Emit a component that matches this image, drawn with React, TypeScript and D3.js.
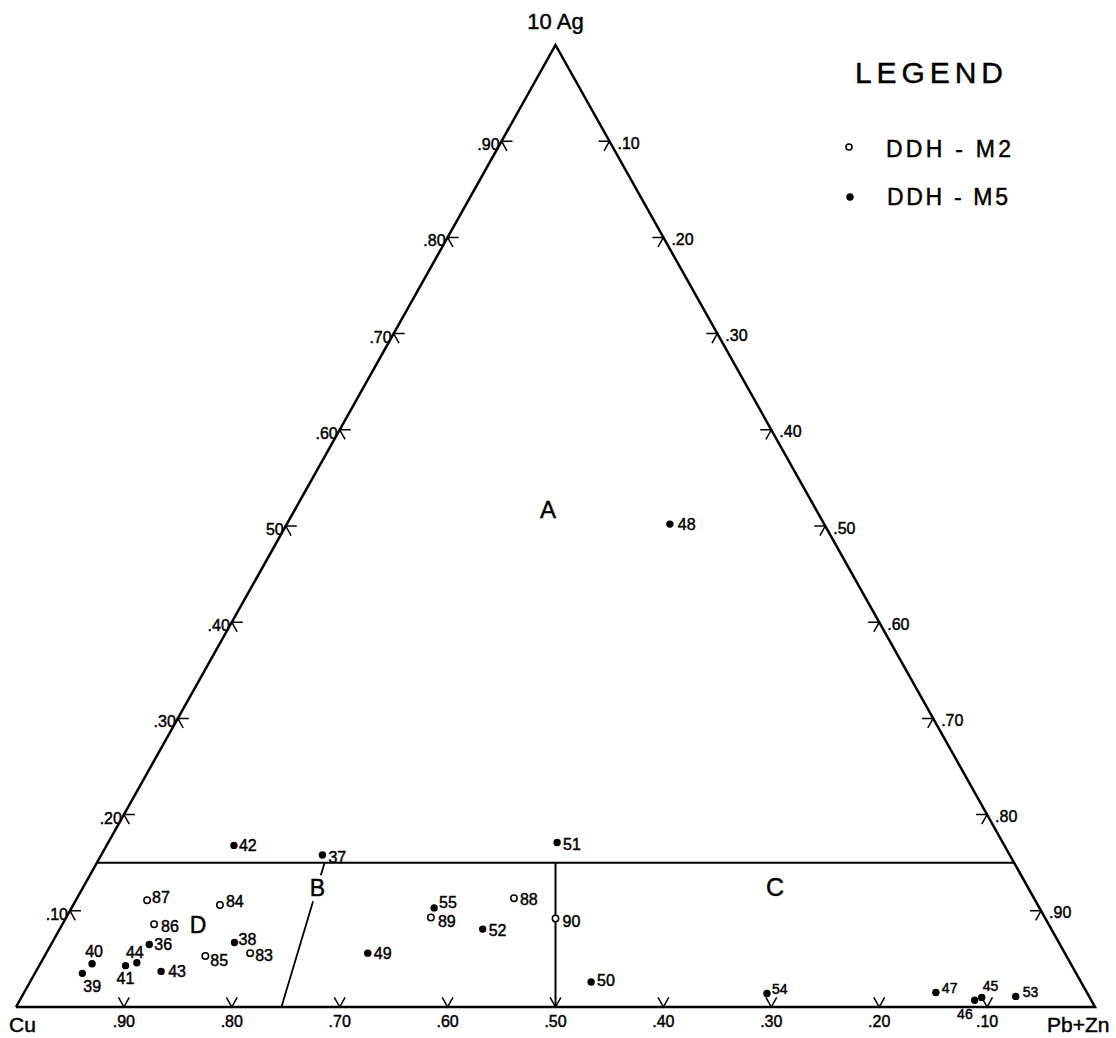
import React from "react";
import * as d3 from "d3";

const W = 1116;
const H = 1038;

// Sample compositions as fractions of Cu, 10Ag and Pb+Zn (each row sums to 1)
const m2Ids = ["87", "84", "86", "85", "83", "88", "89", "90"];
const m2Cu = [0.823, 0.758, 0.829, 0.798, 0.755, 0.482, 0.569, 0.454];
const m2Ag = [0.111, 0.106, 0.086, 0.053, 0.056, 0.113, 0.093, 0.092];
const m2PbZn = [0.066, 0.136, 0.085, 0.149, 0.189, 0.405, 0.338, 0.454];

const m5Ids = ["42", "37", "36", "38", "40", "44", "41", "43", "39", "49", "48", "51", "55", "52", "50", "54", "47", "46", "45", "53"];
const m5Cu = [0.714, 0.637, 0.844, 0.764, 0.907, 0.865, 0.877, 0.847, 0.921, 0.646, 0.143, 0.413, 0.561, 0.527, 0.454, 0.297, 0.140, 0.108, 0.100, 0.068];
const m5Ag = [0.168, 0.158, 0.065, 0.067, 0.045, 0.046, 0.043, 0.037, 0.035, 0.056, 0.502, 0.171, 0.103, 0.081, 0.026, 0.014, 0.015, 0.007, 0.010, 0.011];
const m5PbZn = [0.118, 0.205, 0.091, 0.169, 0.048, 0.089, 0.080, 0.116, 0.044, 0.298, 0.355, 0.416, 0.336, 0.392, 0.520, 0.689, 0.845, 0.885, 0.890, 0.921];

// Axis ticks
const baseTicks = [0.9, 0.8, 0.7, 0.6, 0.5, 0.4, 0.3, 0.2, 0.1]; // Cu fraction
const baseTickLabels = [".90", ".80", ".70", ".60", ".50", ".40", ".30", ".20", ".10"];
const leftTicks = [0.1, 0.2, 0.3, 0.4, 0.5, 0.6, 0.7, 0.8, 0.9]; // 10Ag fraction
const leftTickLabels = [".10", ".20", ".30", ".40", "50", ".60", ".70", ".80", ".90"];
const rightTicks = [0.1, 0.2, 0.3, 0.4, 0.5, 0.6, 0.7, 0.8, 0.9]; // Pb+Zn fraction
const rightTickLabels = [".10", ".20", ".30", ".40", ".50", ".60", ".70", ".80", ".90"];

// Field boundaries
const boundaryAg = 0.15; // horizontal divide between field A and the lower fields
const divideBPbZnBase = 0.246; // B divide at Ag = 0
const divideBPbZnTop = 0.211; // B divide at Ag = boundaryAg

// Label placement for each sample number (dx, dy relative to the dot, anchor, font size)
const labelPos: Record<string, [number, number, string, number]> = {
  "87": [5, -3, "start", 16],
  "84": [6, -4, "start", 16],
  "86": [7, 2, "start", 16],
  "85": [5, 4, "start", 16],
  "83": [5, 2, "start", 16],
  "88": [6, 1, "start", 16],
  "89": [7, 4, "start", 16],
  "90": [7, 3, "start", 16],
  "42": [5, 0, "start", 16],
  "37": [6, 2, "start", 16],
  "36": [5, 0, "start", 16],
  "38": [4, -3, "start", 16],
  "40": [2, -12, "middle", 16],
  "44": [-2, -11, "middle", 16],
  "41": [0, 13, "middle", 16],
  "43": [7, 0, "start", 16],
  "39": [1, 13, "start", 16],
  "49": [6, 0, "start", 16],
  "48": [8, 0, "start", 16],
  "51": [6, 2, "start", 16],
  "55": [5, -6, "start", 16],
  "52": [6, 1, "start", 16],
  "50": [6, -2, "start", 16],
  "54": [5, -5, "start", 14],
  "47": [6, -5, "start", 14],
  "46": [-2, 14, "end", 14],
  "45": [1, -11, "start", 14],
  "53": [7, -4, "start", 14],
};

const FONT = "'Liberation Sans', Arial, sans-serif";
// pen-lettered text is slightly heavier than the plain face
const INK = { fill: "#000", stroke: "#000", strokeWidth: 0.45 };

// Ternary projection: x from Pb+Zn plus half the Ag share, y from Ag
const xScale = d3.scaleLinear().domain([0, 1]).range([16, 1095]);
const yScale = d3.scaleLinear().domain([0, 1]).range([1007, 45]);
const project = (ag: number, pbzn: number): [number, number] => [xScale(pbzn + ag / 2), yScale(ag)];

const cuV = project(0, 0);
const pbV = project(0, 1);
const agV = project(1, 0);

const unit = (a: [number, number], b: [number, number]): [number, number] => {
  const dx = b[0] - a[0];
  const dy = b[1] - a[1];
  const n = Math.hypot(dx, dy);
  return [dx / n, dy / n];
};
const upRight = unit(cuV, agV); // parallel to Cu–Ag edge
const upLeft = unit(pbV, agV); // parallel to Pb+Zn–Ag edge
const ARM = 11;

function tickArms(p: [number, number], d1: [number, number], d2: [number, number]) {
  return `M${p[0] + d1[0] * ARM},${p[1] + d1[1] * ARM}L${p[0]},${p[1]}L${p[0] + d2[0] * ARM},${p[1] + d2[1] * ARM}`;
}

type Sample = { id: string; ag: number; pbzn: number; cu: number };
const m2: Sample[] = m2Ids.map((id, i) => ({ id, cu: m2Cu[i], ag: m2Ag[i], pbzn: m2PbZn[i] }));
const m5: Sample[] = m5Ids.map((id, i) => ({ id, cu: m5Cu[i], ag: m5Ag[i], pbzn: m5PbZn[i] }));

function SampleLabel({ s }: { s: Sample }) {
  const [x, y] = project(s.ag, s.pbzn);
  const [dx, dy, anchor, size] = labelPos[s.id];
  return (
    <text x={x + dx} y={y + dy} dy="0.36em" textAnchor={anchor as any} fontSize={size} fontFamily={FONT} {...INK}>
      {s.id}
    </text>
  );
}

export default function App() {
  const line = d3.line();
  const triangle = line([cuV, pbV, agV, cuV]) as string;

  // boundary lines
  const hLeft = project(boundaryAg, 0);
  const hRight = project(boundaryAg, 1 - boundaryAg);
  const midTop = project(boundaryAg, (1 - boundaryAg) / 2);
  const midBase = project(0, 0.5);
  const bTop = project(boundaryAg, divideBPbZnTop);
  const bBase = project(0, divideBPbZnBase);
  const bAt = (ag: number) => project(ag, divideBPbZnBase + (divideBPbZnTop - divideBPbZnBase) * (ag / boundaryAg));

  return (
    <svg width={W} height={H} style={{ position: "absolute", left: 0, top: 0, background: "#fff" }}>
      <rect width={W} height={H} fill="#fff" />
      <path d={triangle} fill="none" stroke="#000" strokeWidth={2.5} strokeLinejoin="miter" />

      {/* field divides */}
      <path d={line([hLeft, hRight]) as string} stroke="#000" strokeWidth={2} fill="none" />
      <path d={line([midTop, midBase]) as string} stroke="#000" strokeWidth={2} fill="none" />
      <path d={line([bTop, bAt(0.137)]) as string} stroke="#000" strokeWidth={1.8} fill="none" />
      <path d={line([bAt(0.11), bBase]) as string} stroke="#000" strokeWidth={1.8} fill="none" />

      {/* base ticks (Cu) */}
      {baseTicks.map((cu, i) => {
        const p = project(0, 1 - cu);
        return (
          <g key={"b" + i}>
            <path d={tickArms(p, upLeft, upRight)} fill="none" stroke="#000" strokeWidth={1.5} />
            <text x={p[0]} y={1027} textAnchor="middle" fontSize={16} fontFamily={FONT} {...INK}>
              {baseTickLabels[i]}
            </text>
          </g>
        );
      })}

      {/* left ticks (10Ag) */}
      {leftTicks.map((ag, i) => {
        const p = project(ag, 0);
        return (
          <g key={"l" + i}>
            <path d={tickArms(p, [1, 0], [-upLeft[0], -upLeft[1]])} fill="none" stroke="#000" strokeWidth={1.5} />
            <text x={p[0] - 2} y={p[1] + 9} textAnchor="end" fontSize={16} fontFamily={FONT} {...INK}>
              {leftTickLabels[i]}
            </text>
          </g>
        );
      })}

      {/* right ticks (Pb+Zn) */}
      {rightTicks.map((pz, i) => {
        const p = project(1 - pz, pz);
        return (
          <g key={"r" + i}>
            <path d={tickArms(p, [-1, 0], [-upRight[0], -upRight[1]])} fill="none" stroke="#000" strokeWidth={1.5} />
            <text x={p[0] + 8} y={p[1] + 7.5} textAnchor="start" fontSize={16} fontFamily={FONT} {...INK}>
              {rightTickLabels[i]}
            </text>
          </g>
        );
      })}

      {/* vertex labels */}
      <text x={agV[0]} y={29} textAnchor="middle" fontSize={22} fontFamily={FONT} {...INK}>10 Ag</text>
      <text x={9} y={1032} fontSize={21} fontFamily={FONT} {...INK}>Cu</text>
      <text x={1047} y={1032} fontSize={21} fontFamily={FONT} {...INK}>Pb+Zn</text>

      {/* field letters */}
      <text x={548} y={509} dy="0.36em" textAnchor="middle" fontSize={24} fontFamily={FONT} {...INK}>A</text>
      <text x={317.5} y={888} dy="0.36em" textAnchor="middle" fontSize={23} fontFamily={FONT} {...INK}>B</text>
      <text x={775} y={887} dy="0.36em" textAnchor="middle" fontSize={25} fontFamily={FONT} {...INK}>C</text>
      <text x={198} y={925} dy="0.36em" textAnchor="middle" fontSize={23} fontFamily={FONT} {...INK}>D</text>

      {/* samples */}
      {m2.map((s) => {
        const [x, y] = project(s.ag, s.pbzn);
        return <circle key={"c2" + s.id} cx={x} cy={y} r={3.2} fill="#fff" stroke="#000" strokeWidth={1.5} />;
      })}
      {m5.map((s) => {
        const [x, y] = project(s.ag, s.pbzn);
        return <circle key={"c5" + s.id} cx={x} cy={y} r={3.7} fill="#000" />;
      })}
      {m2.map((s) => <SampleLabel key={"t2" + s.id} s={s} />)}
      {m5.map((s) => <SampleLabel key={"t5" + s.id} s={s} />)}

      {/* legend */}
      <text x={855} y={83} fontSize={30} fontFamily={FONT} textLength={148} lengthAdjust="spacing" {...INK}>LEGEND</text>
      <circle cx={849} cy={147} r={3} fill="#fff" stroke="#000" strokeWidth={1.5} />
      <text x={886} y={157} fontSize={23} fontFamily={FONT} textLength={125} lengthAdjust="spacing" {...INK}>DDH - M2</text>
      <circle cx={850} cy={197} r={3.7} fill="#000" />
      <text x={887} y={205} fontSize={23} fontFamily={FONT} textLength={121} lengthAdjust="spacing" {...INK}>DDH - M5</text>
    </svg>
  );
}
